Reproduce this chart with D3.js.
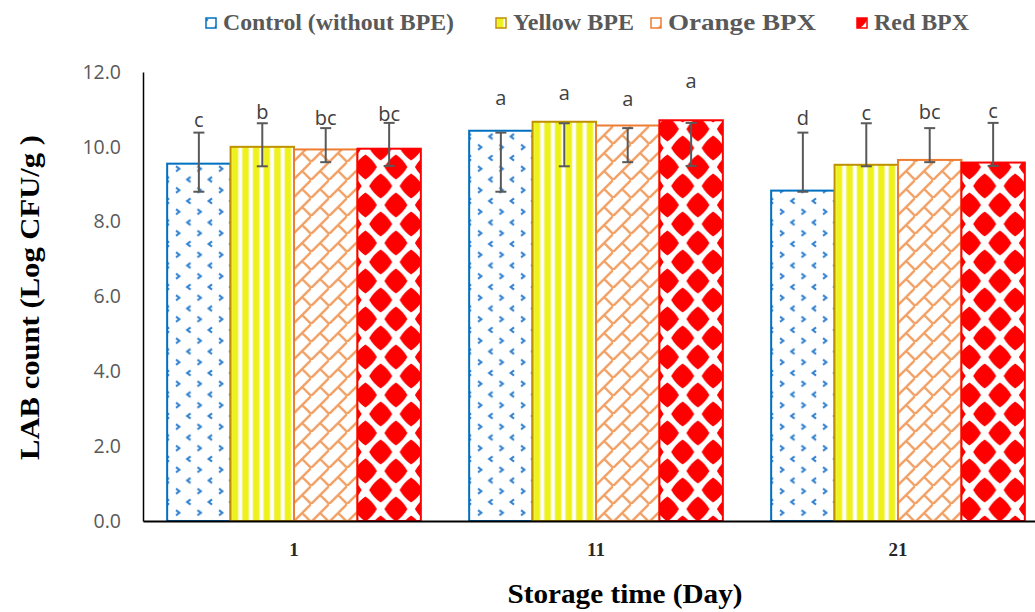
<!DOCTYPE html>
<html>
<head>
<meta charset="utf-8">
<script src="https://cdn.jsdelivr.net/npm/d3@7"></script>
<style>
  body { margin: 0; background: #fff; }
  svg { display: block; }
</style>
</head>
<body>
<div id="chart"></div>
<script>
// storage days and series
var days = ['1', '11', '21']
var seriesNames = ['Control (without BPE)', 'Yellow BPE', 'Orange BPX', 'Red BPX']

// mean LAB counts (log CFU/g)
var control = [9.55, 10.43, 8.83]
var yellow = [10.00, 10.67, 9.52]
var orange = [9.93, 10.57, 9.65]
var red = [9.95, 10.71, 9.58]

// error bar ends as drawn in the figure
var controlLo = [8.80, 8.80, 8.80]
var controlHi = [10.38, 10.38, 10.38]
var yellowLo = [9.48, 9.48, 9.48]
var yellowHi = [10.63, 10.63, 10.63]
var orangeLo = [9.59, 9.59, 9.59]
var orangeHi = [10.50, 10.50, 10.50]
var redLo = [9.49, 9.49, 9.49]
var redHi = [10.64, 10.64, 10.64]

// significance letters and the level they sit at
var controlLetters = ['c', 'a', 'd']
var yellowLetters = ['b', 'a', 'c']
var orangeLetters = ['bc', 'a', 'bc']
var redLetters = ['bc', 'a', 'c']
var controlLetterAt = [10.53, 11.12, 10.59]
var yellowLetterAt = [10.75, 11.26, 10.72]
var orangeLetterAt = [10.59, 11.10, 10.75]
var redLetterAt = [10.70, 11.58, 10.78]

var yTicks = [0, 2, 4, 6, 8, 10, 12]

var series = [
  { key: 'control', name: seriesNames[0], values: control, lo: controlLo, hi: controlHi, letters: controlLetters, letterAt: controlLetterAt },
  { key: 'yellow', name: seriesNames[1], values: yellow, lo: yellowLo, hi: yellowHi, letters: yellowLetters, letterAt: yellowLetterAt },
  { key: 'orange', name: seriesNames[2], values: orange, lo: orangeLo, hi: orangeHi, letters: orangeLetters, letterAt: orangeLetterAt },
  { key: 'red', name: seriesNames[3], values: red, lo: redLo, hi: redHi, letters: redLetters, letterAt: redLetterAt }
]

var strokeColors = { control: '#0070C0', yellow: '#BF9000', orange: '#ED7D31', red: '#FF0000' }

var W = 1035
var H = 612
var margin = { top: 72, right: -14, bottom: 91, left: 143 }
var width = W - margin.left - margin.right
var height = H - margin.top - margin.bottom

var svg = d3.select('#chart')
  .append('svg')
  .attr('width', W)
  .attr('height', H)

// fill patterns
var defs = svg.append('defs')

var pc = defs.append('pattern').attr('id', 'pat-control')
  .attr('patternUnits', 'userSpaceOnUse').attr('width', 21.5).attr('height', 21.5)
pc.append('rect').attr('width', 21.5).attr('height', 21.5).attr('fill', '#fff')
;[[0, 0], [21.5, 0], [0, 21.5], [21.5, 21.5]].forEach(function (p) {
  pc.append('path').attr('d', 'M' + (p[0] + 1.9) + ',' + (p[1] - 2.6) + 'l-3.4,2.6l3.4,2.6')
    .attr('fill', 'none').attr('stroke', '#2F80CF').attr('stroke-width', 2)
})
pc.append('path').attr('d', 'M' + (10.75 - 1.9) + ',' + (10.75 - 2.6) + 'l3.4,2.6l-3.4,2.6')
  .attr('fill', 'none').attr('stroke', '#2F80CF').attr('stroke-width', 2)

var py = defs.append('pattern').attr('id', 'pat-yellow')
  .attr('patternUnits', 'userSpaceOnUse').attr('width', 10.6).attr('height', 10)
py.append('rect').attr('width', 10.6).attr('height', 10).attr('fill', '#fff')
py.append('rect').attr('x', 0.5).attr('width', 7.4).attr('height', 10).attr('fill', '#F6F7A0')
py.append('rect').attr('x', 1.3).attr('width', 5.8).attr('height', 10).attr('fill', '#EEF21A')

var T = 18
var po = defs.append('pattern').attr('id', 'pat-orange')
  .attr('patternUnits', 'userSpaceOnUse').attr('width', T).attr('height', T)
po.append('rect').attr('width', T).attr('height', T).attr('fill', '#fff')
po.append('path')
  .attr('d', 'M-2,' + (T + 2) + 'L' + (T + 2) + ',-2M' + (T / 2) + ',' + (T / 2) + 'L' + (T + 2) + ',' + (T + 2) + 'M-2,-2L0,0')
  .attr('stroke', '#F2A064').attr('stroke-width', 2.4).attr('fill', 'none')

var rw = 30.5
var rh = 38
var pr = defs.append('pattern').attr('id', 'pat-red')
  .attr('patternUnits', 'userSpaceOnUse').attr('width', rw).attr('height', rh)
pr.append('rect').attr('width', rw).attr('height', rh).attr('fill', '#fff')
var dia = function (cx, cy, a, b) {
  var k = 0.62
  return 'M' + cx + ',' + (cy - b) +
    'Q' + (cx + a * k) + ',' + (cy - b * k) + ' ' + (cx + a) + ',' + cy +
    'Q' + (cx + a * k) + ',' + (cy + b * k) + ' ' + cx + ',' + (cy + b) +
    'Q' + (cx - a * k) + ',' + (cy + b * k) + ' ' + (cx - a) + ',' + cy +
    'Q' + (cx - a * k) + ',' + (cy - b * k) + ' ' + cx + ',' + (cy - b) + 'Z'
}
;[[0, 0], [rw, 0], [0, rh], [rw, rh], [rw / 2, rh / 2]].forEach(function (p) {
  pr.append('path').attr('d', dia(p[0], p[1], 11.5, 12.5)).attr('fill', '#FF0000')
})

var g = svg.append('g')
  .attr('transform', 'translate(' + margin.left + ',' + margin.top + ')')

// scales
var x0 = d3.scaleBand()
  .domain(days)
  .range([0, width])
  .paddingInner(0.16)
  .paddingOuter(0.08)

var x1 = d3.scaleBand()
  .domain(series.map(function (s) { return s.key }))
  .range([0, x0.bandwidth()])

var y = d3.scaleLinear()
  .domain([0, 12])
  .range([height, 0])

// bars
var groups = g.selectAll('.day')
  .data(days)
  .enter().append('g')
  .attr('class', 'day')
  .attr('transform', function (d) { return 'translate(' + x0(d) + ',0)' })

var cells = groups.selectAll('.cell')
  .data(function (d, i) {
    return series.map(function (s) {
      return { key: s.key, v: s.values[i], lo: s.lo[i], hi: s.hi[i], letter: s.letters[i], at: s.letterAt[i] }
    })
  })
  .enter().append('g')
  .attr('class', 'cell')

cells.append('rect')
  .attr('x', function (d) { return x1(d.key) })
  .attr('y', function (d) { return y(d.v) })
  .attr('width', x1.bandwidth())
  .attr('height', function (d) { return height - y(d.v) })
  .attr('fill', function (d) { return 'url(#pat-' + d.key + ')' })
  .attr('stroke', function (d) { return strokeColors[d.key] })
  .attr('stroke-width', 2)

// error bars
var cx = function (d) { return x1(d.key) + x1.bandwidth() / 2 }
cells.append('line')
  .attr('x1', cx).attr('x2', cx)
  .attr('y1', function (d) { return y(d.lo) })
  .attr('y2', function (d) { return y(d.hi) })
  .attr('stroke', '#595959').attr('stroke-width', 2)
cells.append('line')
  .attr('x1', function (d) { return cx(d) - 5.5 })
  .attr('x2', function (d) { return cx(d) + 5.5 })
  .attr('y1', function (d) { return y(d.hi) })
  .attr('y2', function (d) { return y(d.hi) })
  .attr('stroke', '#595959').attr('stroke-width', 2)
cells.append('line')
  .attr('x1', function (d) { return cx(d) - 5.5 })
  .attr('x2', function (d) { return cx(d) + 5.5 })
  .attr('y1', function (d) { return y(d.lo) })
  .attr('y2', function (d) { return y(d.lo) })
  .attr('stroke', '#595959').attr('stroke-width', 2)

// letters
cells.append('text')
  .attr('x', cx)
  .attr('y', function (d) { return y(d.at) })
  .attr('text-anchor', 'middle')
  .attr('font-family', 'Open Sans, sans-serif')
  .attr('font-size', 20)
  .attr('fill', '#404040')
  .text(function (d) { return d.letter })

// axes
var yAxis = d3.axisLeft(y)
  .tickValues(yTicks)
  .tickFormat(d3.format('.1f'))
  .tickSize(0)
  .tickPadding(22)
g.append('g')
  .attr('class', 'axis y-axis')
  .call(yAxis)
  .call(function (a) {
    a.select('.domain').attr('stroke', '#000').attr('stroke-width', 1.5)
    a.selectAll('text')
      .attr('font-family', 'Open Sans, sans-serif')
      .attr('font-size', 19.5)
      .attr('fill', '#595959')
  })

var xAxis = d3.axisBottom(x0).tickSize(0).tickPadding(22)
g.append('g')
  .attr('class', 'axis x-axis')
  .attr('transform', 'translate(0,' + height + ')')
  .call(xAxis)
  .call(function (a) {
    a.select('.domain').attr('stroke', '#000').attr('stroke-width', 2)
    a.selectAll('text')
      .attr('font-family', 'Liberation Serif, serif')
      .attr('font-weight', 'bold')
      .attr('font-size', 19)
      .attr('fill', '#262626')
  })

// axis titles
svg.append('text')
  .attr('transform', 'translate(39,' + (margin.top + height / 2 + 1) + ') rotate(-90)')
  .attr('text-anchor', 'middle')
  .attr('font-family', 'Liberation Serif, serif')
  .attr('font-weight', 'bold')
  .attr('font-size', 27)
  .attr('fill', '#000')
  .attr('textLength', 325)
  .attr('lengthAdjust', 'spacingAndGlyphs')
  .text('LAB  count (Log CFU/g )')

svg.append('text')
  .attr('x', 625)
  .attr('y', 603)
  .attr('text-anchor', 'middle')
  .attr('font-family', 'Liberation Serif, serif')
  .attr('font-weight', 'bold')
  .attr('font-size', 27)
  .attr('fill', '#000')
  .attr('textLength', 235)
  .attr('lengthAdjust', 'spacingAndGlyphs')
  .text('Storage time (Day)')

// legend
var legendX = [206, 496, 651, 857]
var legendW = [231, 121, 148, 95]
var legend = svg.append('g').attr('class', 'legend')
var items = legend.selectAll('g')
  .data(series)
  .enter().append('g')
  .attr('transform', function (d, i) { return 'translate(' + legendX[i] + ',18)' })
items.append('rect')
  .attr('width', 10).attr('height', 10)
  .attr('fill', function (d) { return 'url(#pat-' + d.key + ')' })
  .attr('stroke', function (d) { return strokeColors[d.key] })
  .attr('stroke-width', 1.5)
items.append('text')
  .attr('x', 17)
  .attr('y', 12)
  .attr('font-family', 'Liberation Serif, serif')
  .attr('font-weight', 'bold')
  .attr('font-size', 23)
  .attr('fill', '#595959')
  .attr('textLength', function (d, i) { return legendW[i] })
  .attr('lengthAdjust', 'spacingAndGlyphs')
  .text(function (d) { return d.name })
</script>
</body>
</html>
